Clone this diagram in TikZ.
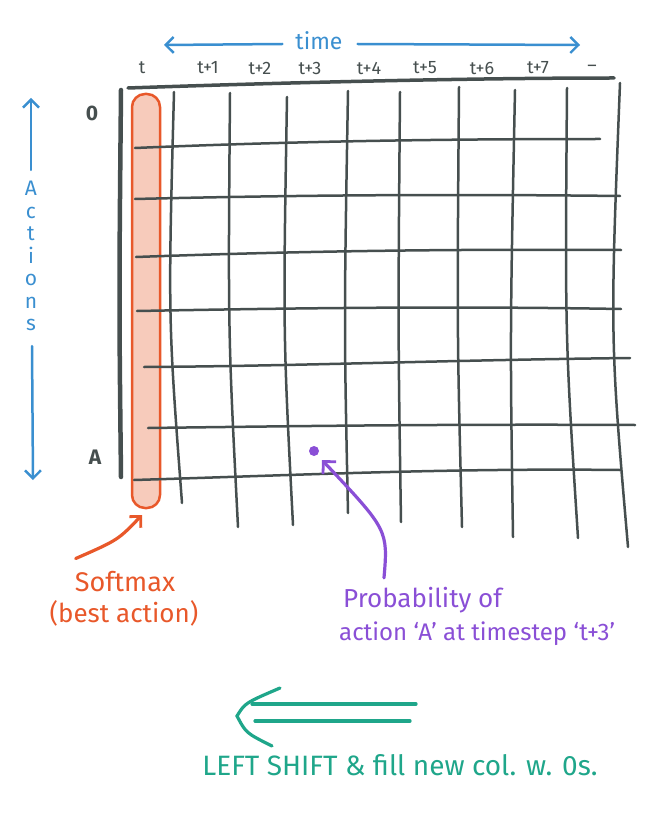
\documentclass[tikz,border=0pt]{standalone}
\usepackage{fontspec}
\setmainfont{Fira Sans}
\usetikzlibrary{arrows.meta}
\definecolor{gridc}{HTML}{464F4F}
\definecolor{bluec}{HTML}{3A8FD0}
\definecolor{orangec}{HTML}{E8582A}
\definecolor{salmon}{HTML}{F7CBBB}
\definecolor{purplec}{HTML}{8A4FD6}
\definecolor{greenc}{HTML}{1FA68A}
\tikzset{
  gridline/.style={draw=gridc, line width=2.5pt, line cap=round},
  axisline/.style={draw=gridc, line width=4.5pt, line cap=round},
  collabel/.style={text=gridc, font=\fontsize{18}{20}\selectfont, inner sep=1pt},
  rowlabel/.style={text=gridc, font=\fontsize{21}{24}\selectfont\bfseries, inner sep=1pt},
  barb/.style={-{Straight Barb[length=8pt,width=16pt,line width=2.4pt]}},
}
\begin{document}
\begin{tikzpicture}[x=1pt,y=-1pt]
\useasboundingbox (0,0) rectangle (656,813);
% time axis
\node[text=bluec, font=\fontsize{23}{26}\selectfont, inner sep=1pt] (time) at (319,41) {time};
\coordinate (tl) at (164,45);
\coordinate (tr) at (580,45);
\draw[bluec, line width=2.5pt, line cap=round, barb] (time.west) ++(-12,3) -- (tl);
\draw[bluec, line width=2.5pt, line cap=round, barb] (time.east) ++(14,3) -- (tr);
% column labels
\foreach \x/\t [count=\i] in {142/t, 208/t+1, 260/t+2, 310/t+3, 369/t+4, 425/t+5, 482/t+6, 538/t+7, 592/--}
  \node[collabel] (c\i) at (\x,68) {\t};
% top axis line
\draw[axisline, line width=3.5pt] (128,88) .. controls (300,82) and (480,78) .. (614,78);
% orange pill
\draw[orangec, fill=salmon, line width=2.5pt, rounded corners=13pt] (132,94) rectangle (160,508);
% left thick axis
\draw[axisline] (121,90) .. controls (119,300) .. (121,477);
% row labels
\node[rowlabel] (r0) at (92,113) {0};
\node[rowlabel] (rA) at (95,457) {A};
% actions axis
\node[text=bluec, font=\fontsize{21}{22.5}\selectfont, align=center, inner sep=1pt] (act) at (31,256) {A\\c\\t\\i\\o\\n\\s};
\coordinate (au) at (31,98);
\coordinate (ad) at (33,480);
\draw[bluec, line width=2.5pt, line cap=round, barb] (act.north) ++(0,-10) -- (au);
\draw[bluec, line width=2.5pt, line cap=round, barb] (act.south) ++(1,14) -- (ad);
% horizontal grid lines
\draw[gridline] (135,148) .. controls (300,141) and (450,139) .. (600,139);
\draw[gridline] (135,199) .. controls (300,195) and (450,194) .. (620,196);
\draw[gridline] (136,257) .. controls (300,251) and (450,249) .. (621,250);
\draw[gridline] (137,311) .. controls (300,308) and (450,306) .. (621,309);
\draw[gridline] (144,367) .. controls (300,366) and (450,360) .. (630,358);
\draw[gridline] (148,428) .. controls (300,426) and (450,424) .. (635,425);
\draw[gridline] (134,480) .. controls (300,475) and (450,468) .. (620,470);
% vertical grid lines (top x,y / bow x / bottom x,y)
\foreach \xa/\ya/\xm/\xb/\yb in {174/92/168/182/503, 230/93/228/238/527, 287/97/283/293/525, 348/91/344/348/513, 400/92/398/401/522, 459/87/457/462/527, 515/90/510/513/537, 567/88/565/578/538, 620/83/610/628/547}
  \draw[gridline] (\xa,\ya) .. controls (\xm,{\ya+0.55*(\yb-\ya)}) .. (\xb,\yb);
% purple annotation
\fill[purplec] (314,451) circle (5pt);
\coordinate (pdot) at (322,460);
\node[text=purplec, font=\fontsize{26}{30}\selectfont, anchor=west, inner sep=1pt] (prob) at (342,600) {Probability of};
\node[text=purplec, font=\fontsize{24}{28}\selectfont, anchor=west, inner sep=1pt] (prob2) at (338,634) {action `A' at timestep `t+3'};
\draw[purplec, line width=3.2pt, line cap=round, -{Straight Barb[length=9pt,width=18pt,line width=2.8pt]}] (prob.north west) ++(42,-8) .. controls (388,530) .. (pdot);
% orange annotation
\node[text=orangec, font=\fontsize{27}{30}\selectfont, inner sep=1pt] (soft) at (125,582) {Softmax};
\node[text=orangec, font=\fontsize{26}{30}\selectfont, inner sep=1pt] (soft2) at (124,613) {(best action)};
\coordinate (pillb) at (142,515);
\draw[orangec, line width=3.2pt, line cap=round, -{Straight Barb[length=8pt,width=16pt,line width=2.8pt]}] (soft.north west) ++(2,-12) .. controls (118,540) .. (pillb);
% green shift arrow
\node[text=greenc, font=\fontsize{28}{32}\selectfont, inner sep=1pt] (shift) at (400,765) {LEFT SHIFT \& fill new col. w. 0s.};
\coordinate (gl) at (237,716);
\draw[greenc, line width=3.2pt, line cap=round] (416,704) -- (252,704);
\draw[greenc, line width=3.2pt, line cap=round] (410,721) -- (255,721);
\draw[greenc, line width=3.2pt, line cap=round] (280,688) .. controls (245,703) .. (gl) .. controls (246,733) .. (272,746);
\end{tikzpicture}
\end{document}
